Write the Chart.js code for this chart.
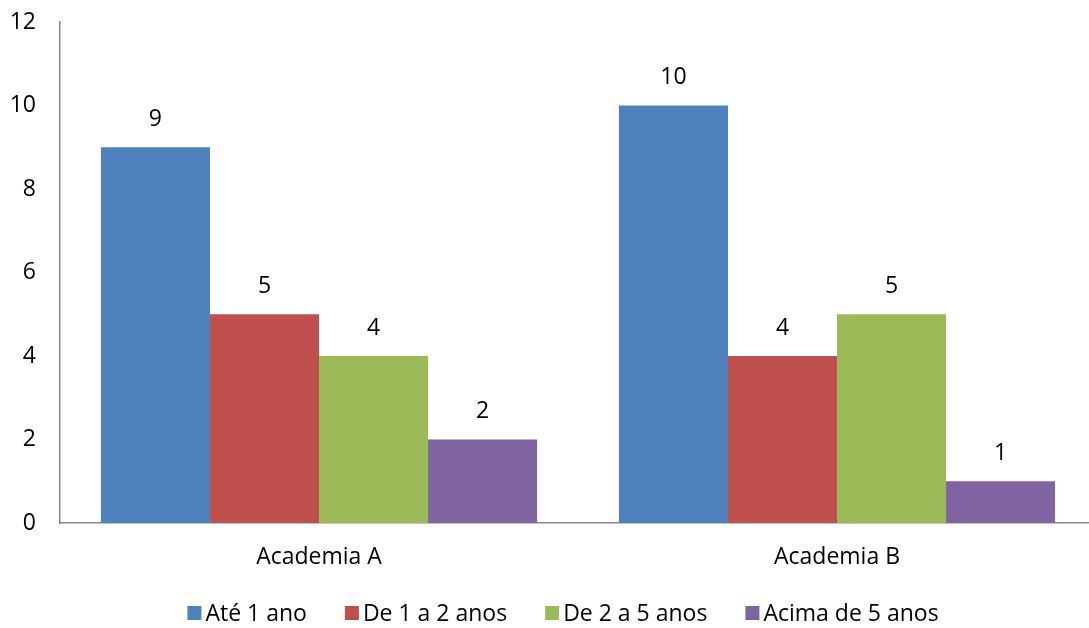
<!DOCTYPE html>
<html lang="pt">
<head>
<meta charset="utf-8">
<title>Tempo de matrícula por academia</title>
<script src="https://cdn.jsdelivr.net/npm/chart.js"></script>
<style>
  html, body { margin: 0; padding: 0; background: #fff; overflow: hidden; }
  /* a área do gráfico passa um pouco da margem direita da janela */
  #wrap { position: relative; width: 1096px; height: 628px; }
</style>
</head>
<body>
<div id="wrap"><canvas id="grafico"></canvas></div>
<script>
// dados
const academias = ['Academia A', 'Academia B'];
const ate1ano = [9, 10];
const de1a2anos = [5, 4];
const de2a5anos = [4, 5];
const acima5anos = [2, 1];
const ticksY = [0, 2, 4, 6, 8, 10, 12];

const fonte = "'Open Sans', 'DejaVu Sans', sans-serif";
const tamanho = 23;

// rótulos de valor acima de cada barra
const rotulos = {
  id: 'rotulos',
  afterDatasetsDraw(chart) {
    const ctx = chart.ctx;
    ctx.save();
    ctx.font = tamanho + 'px ' + fonte;
    ctx.fillStyle = '#000';
    ctx.textAlign = 'center';
    ctx.textBaseline = 'middle';
    chart.data.datasets.forEach((ds, i) => {
      chart.getDatasetMeta(i).data.forEach((bar, j) => {
        ctx.fillText(ds.data[j], bar.x, bar.y - 28);
      });
    });
    ctx.restore();
  }
};

// legenda embaixo: quadrado colado ao texto, itens espaçados
const legenda = {
  id: 'legenda',
  afterDraw(chart) {
    const ctx = chart.ctx;
    const caixa = 14, folga = 4, espaco = 38, centro = 563, y = 613;
    ctx.save();
    ctx.font = tamanho + 'px ' + fonte;
    ctx.textBaseline = 'middle';
    ctx.textAlign = 'left';
    const itens = chart.data.datasets.map(ds => ({
      texto: ds.label, cor: ds.backgroundColor, w: ctx.measureText(ds.label).width
    }));
    const total = itens.reduce((s, it) => s + caixa + folga + it.w, 0) + espaco * (itens.length - 1);
    let x = centro - total / 2;
    itens.forEach(it => {
      ctx.fillStyle = it.cor;
      ctx.fillRect(x, y - caixa / 2, caixa, caixa);
      ctx.fillStyle = '#000';
      ctx.fillText(it.texto, x + caixa + folga, y + 1);
      x += caixa + folga + it.w + espaco;
    });
    ctx.restore();
  }
};

new Chart(document.getElementById('grafico'), {
  type: 'bar',
  data: {
    labels: academias,
    datasets: [
      { label: 'Até 1 ano', data: ate1ano, backgroundColor: '#4f81bd' },
      { label: 'De 1 a 2 anos', data: de1a2anos, backgroundColor: '#c0504d' },
      { label: 'De 2 a 5 anos', data: de2a5anos, backgroundColor: '#9bbb59' },
      { label: 'Acima de 5 anos', data: acima5anos, backgroundColor: '#8064a2' }
    ]
  },
  options: {
    responsive: true,
    maintainAspectRatio: false,
    animation: false,
    layout: { padding: { top: 22, right: 0, left: 0, bottom: 45 } },
    datasets: { bar: { categoryPercentage: 0.842, barPercentage: 1 } },
    plugins: {
      legend: { display: false },
      tooltip: { enabled: false }
    },
    scales: {
      x: {
        grid: { display: false, drawTicks: false },
        border: { color: '#898989', width: 1.5 },
        ticks: { font: { family: fonte, size: tamanho }, color: '#000', padding: 21 },
        afterFit(s) { s.height = 60; s.paddingLeft = 0; s.paddingRight = 0; }
      },
      y: {
        min: 0,
        max: 12,
        afterBuildTicks(s) { s.ticks = ticksY.map(v => ({ value: v })); },
        grid: { display: false, drawTicks: false },
        border: { color: '#898989', width: 1.5 },
        ticks: { font: { family: fonte, size: tamanho }, color: '#000', padding: 24 },
        afterFit(s) { s.width = 60; s.paddingTop = 0; s.paddingBottom = 0; }
      }
    }
  },
  plugins: [rotulos, legenda]
});
</script>
</body>
</html>
